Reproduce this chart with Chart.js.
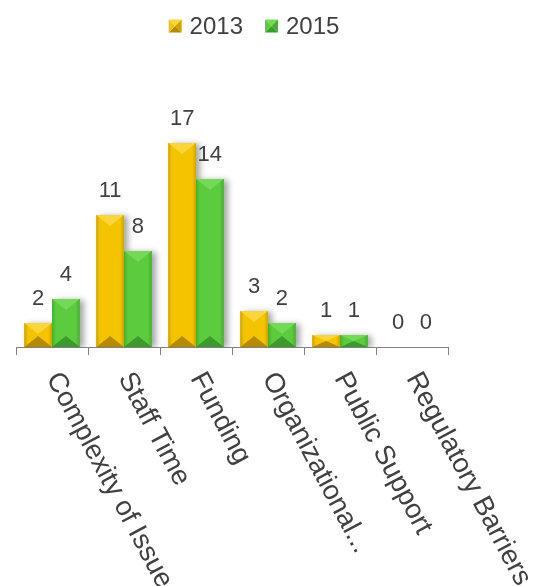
<!DOCTYPE html>
<html>
<head>
<meta charset="utf-8">
<script src="https://cdn.jsdelivr.net/npm/chart.js@4.4.1/dist/chart.umd.min.js"></script>
<style>
  body { margin: 0; background: #fff; }
  canvas { display: block; }
</style>
</head>
<body>
<canvas id="chart" width="547" height="586"></canvas>
<script>
const categories = ['Complexity of Issue', 'Staff Time', 'Funding', 'Organizational...', 'Public Support', 'Regulatory Barriers'];
const seriesNames = ['2013', '2015'];
const values2013 = [2, 11, 17, 3, 1, 0];
const values2015 = [4, 8, 14, 2, 1, 0];

const FONT = "'Liberation Sans', Arial, sans-serif";
const TEXT_COLOR = '#404040';

// base / light (top facet) / dark (bottom facet) / edge
const palettes = [
    { base: '#F5C400', light: '#FAD63C', dark: '#B58A00', edge: '#D2A300' },
    { base: '#5CCB3E', light: '#74D957', dark: '#3B9A2B', edge: '#46AE33' }
];

function bevel(ctx, x0, x1, top, bottom, pal) {
    const w = x1 - x0;
    const h = bottom - top;
    if (h <= 0) return;
    const xc = (x0 + x1) / 2;
    const d = Math.min(h / 2, w * 0.4);

    const g = ctx.createLinearGradient(x0, 0, x1, 0);
    g.addColorStop(0, pal.edge);
    g.addColorStop(0.14, pal.base);
    g.addColorStop(0.86, pal.base);
    g.addColorStop(1, pal.edge);
    ctx.fillStyle = g;
    ctx.fillRect(x0, top, w, h);

    ctx.fillStyle = pal.light;
    ctx.beginPath();
    ctx.moveTo(x0, top);
    ctx.lineTo(x1, top);
    ctx.lineTo(xc, top + d);
    ctx.closePath();
    ctx.fill();

    ctx.fillStyle = pal.dark;
    ctx.beginPath();
    ctx.moveTo(x0, bottom);
    ctx.lineTo(x1, bottom);
    ctx.lineTo(xc, bottom - d);
    ctx.closePath();
    ctx.fill();
}

const barStyle = {
    id: 'barStyle',
    beforeDatasetsDraw(chart) {
        const ctx = chart.ctx;
        ctx.save();
        ctx.shadowColor = 'rgba(0,0,0,0.35)';
        ctx.shadowBlur = 6;
        ctx.shadowOffsetX = 4;
        ctx.shadowOffsetY = 1;
    },
    afterDatasetsDraw(chart) {
        const ctx = chart.ctx;
        ctx.restore();
        ctx.save();
        chart.data.datasets.forEach((ds, i) => {
            const meta = chart.getDatasetMeta(i);
            meta.data.forEach(el => {
                const p = el.getProps(['x', 'y', 'base', 'width'], true);
                bevel(ctx, p.x - p.width / 2, p.x + p.width / 2, p.y, p.base, palettes[i]);
            });
        });
        // value labels
        ctx.fillStyle = TEXT_COLOR;
        ctx.font = '22px ' + FONT;
        ctx.textAlign = 'center';
        ctx.textBaseline = 'alphabetic';
        chart.data.datasets.forEach((ds, i) => {
            const meta = chart.getDatasetMeta(i);
            meta.data.forEach((el, j) => {
                ctx.fillText(String(ds.data[j]), el.x, el.y - 18);
            });
        });
        ctx.restore();
    }
};

const rotatedLabels = {
    id: 'rotatedLabels',
    afterDraw(chart) {
        const ctx = chart.ctx;
        const xs = chart.scales.x;
        ctx.save();
        ctx.fillStyle = TEXT_COLOR;
        ctx.font = '27.5px ' + FONT;
        ctx.textAlign = 'left';
        ctx.textBaseline = 'alphabetic';
        categories.forEach((c, i) => {
            const x = xs.getPixelForTick(i) - 6;
            const y = xs.bottom + 23;
            ctx.save();
            ctx.translate(x, y);
            ctx.rotate(62 * Math.PI / 180);
            ctx.fillText(c, 0, 0);
            ctx.restore();
        });
        ctx.restore();
    }
};

const bevelLegend = {
    id: 'bevelLegend',
    afterDraw(chart) {
        const ctx = chart.ctx;
        const box = 13, gap = 8, itemGap = 22;
        ctx.save();
        ctx.font = '24px ' + FONT;
        const widths = seriesNames.map(n => box + gap + ctx.measureText(n).width);
        const total = widths.reduce((a, b) => a + b, 0) + itemGap * (seriesNames.length - 1);
        let x = 254 - total / 2;
        const cy = 26;
        seriesNames.forEach((n, i) => {
            const pal = palettes[i];
            const x0 = x, y0 = cy - box / 2;
            const xc = x0 + box / 2, yc = cy;
            const tri = (pts, col) => {
                ctx.fillStyle = col;
                ctx.beginPath();
                ctx.moveTo(pts[0][0], pts[0][1]);
                pts.slice(1).forEach(p => ctx.lineTo(p[0], p[1]));
                ctx.closePath();
                ctx.fill();
            };
            tri([[x0, y0], [x0 + box, y0], [xc, yc]], pal.light);
            tri([[x0 + box, y0], [x0 + box, y0 + box], [xc, yc]], pal.edge);
            tri([[x0, y0 + box], [x0 + box, y0 + box], [xc, yc]], pal.dark);
            tri([[x0, y0], [x0, y0 + box], [xc, yc]], pal.base);
            ctx.fillStyle = TEXT_COLOR;
            ctx.textAlign = 'left';
            ctx.textBaseline = 'middle';
            ctx.fillText(n, x0 + box + gap, cy + 1);
            x += widths[i] + itemGap;
        });
        ctx.restore();
    }
};

new Chart(document.getElementById('chart'), {
    type: 'bar',
    data: {
        labels: categories,
        datasets: [
            { label: seriesNames[0], data: values2013, backgroundColor: palettes[0].base },
            { label: seriesNames[1], data: values2015, backgroundColor: palettes[1].base }
        ]
    },
    options: {
        responsive: false,
        animation: false,
        layout: { padding: { top: 107, bottom: 231, left: 16, right: 99 } },
        datasets: { bar: { categoryPercentage: 0.77, barPercentage: 1 } },
        plugins: {
            legend: { display: false },
            tooltip: { enabled: false }
        },
        scales: {
            x: {
                grid: { display: true, drawOnChartArea: false, drawTicks: true, tickLength: 8, color: '#808080', offset: true },
                border: { display: true, color: '#808080' },
                ticks: { display: false }
            },
            y: {
                display: false,
                min: 0,
                max: 20
            }
        }
    },
    plugins: [barStyle, rotatedLabels, bevelLegend]
});
</script>
</body>
</html>
